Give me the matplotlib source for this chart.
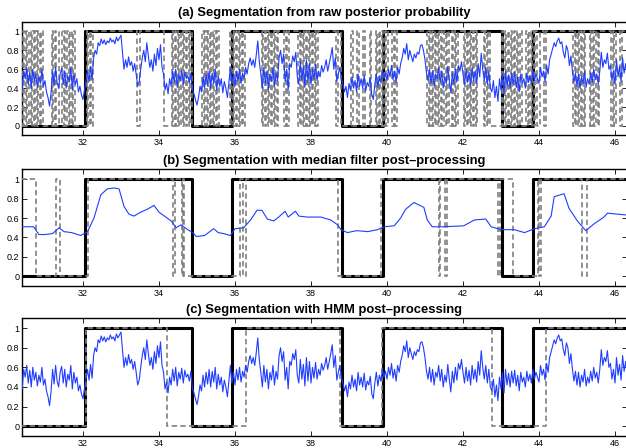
import matplotlib
matplotlib.use("Agg")
import matplotlib.pyplot as plt
import numpy as np

plt.rcParams['font.family'] = ['Liberation Sans', 'DejaVu Sans']

# raw posterior probability, one value every 0.04 s starting at 30.36
t0_raw = 30.36
dt_raw = 0.04
post_raw = [
    0.45, 0.38, 0.58, 0.50, 0.62, 0.44, 0.57, 0.40, 0.60, 0.47, 0.55, 0.41, 0.52, 0.45, 0.60, 0.42, 0.48, 0.36, 0.30, 0.21, 0.35, 0.58, 0.43, 0.62, 0.46,
    0.40, 0.55, 0.61, 0.44, 0.58, 0.40, 0.53, 0.47, 0.62, 0.38, 0.55, 0.44, 0.50, 0.36, 0.42, 0.33, 0.28, 0.38, 0.48, 0.58, 0.47, 0.63, 0.49, 0.72, 0.80,
    0.76, 0.88, 0.85, 0.92, 0.87, 0.91, 0.86, 0.90, 0.88, 0.93, 0.89, 0.91, 0.87, 0.94, 0.90, 0.93, 0.96, 0.78, 0.60, 0.70, 0.62, 0.73, 0.64, 0.68, 0.58,
    0.66, 0.55, 0.42, 0.47, 0.60, 0.72, 0.80, 0.68, 0.88, 0.74, 0.62, 0.70, 0.58, 0.76, 0.64, 0.82, 0.70, 0.86, 0.62, 0.55, 0.38, 0.45, 0.34, 0.50, 0.42,
    0.58, 0.46, 0.60, 0.41, 0.55, 0.48, 0.59, 0.44, 0.57, 0.50, 0.53, 0.46, 0.56, 0.38, 0.34, 0.28, 0.22, 0.30, 0.42, 0.36, 0.52, 0.40, 0.55, 0.43, 0.58,
    0.40, 0.56, 0.45, 0.60, 0.38, 0.53, 0.42, 0.50, 0.35, 0.47, 0.40, 0.30, 0.46, 0.62, 0.44, 0.55, 0.42, 0.58, 0.47, 0.60, 0.45, 0.56, 0.50, 0.62, 0.55,
    0.66, 0.72, 0.64, 0.70, 0.62, 0.75, 0.90, 0.68, 0.55, 0.40, 0.62, 0.45, 0.58, 0.38, 0.55, 0.47, 0.62, 0.42, 0.56, 0.48, 0.72, 0.80, 0.66, 0.76, 0.47,
    0.60, 0.38, 0.66, 0.62, 0.74, 0.68, 0.78, 0.52, 0.44, 0.68, 0.48, 0.63, 0.41, 0.70, 0.46, 0.66, 0.44, 0.60, 0.49, 0.65, 0.48, 0.58, 0.52, 0.64, 0.57,
    0.62, 0.70, 0.58, 0.66, 0.74, 0.83, 0.60, 0.72, 0.47, 0.55, 0.62, 0.50, 0.44, 0.36, 0.42, 0.30, 0.45, 0.38, 0.52, 0.40, 0.48, 0.36, 0.55, 0.42, 0.50,
    0.40, 0.54, 0.37, 0.46, 0.42, 0.51, 0.33, 0.28, 0.44, 0.55, 0.41, 0.52, 0.46, 0.58, 0.50, 0.56, 0.48, 0.60, 0.52, 0.64, 0.49, 0.58, 0.46, 0.62, 0.55,
    0.66, 0.72, 0.82, 0.76, 0.87, 0.70, 0.80, 0.74, 0.68, 0.76, 0.72, 0.78, 0.76, 0.85, 0.86, 0.80, 0.70, 0.56, 0.48, 0.60, 0.45, 0.58, 0.42, 0.55, 0.50,
    0.62, 0.46, 0.58, 0.40, 0.52, 0.45, 0.63, 0.48, 0.35, 0.56, 0.44, 0.60, 0.47, 0.64, 0.58, 0.68, 0.55, 0.44, 0.60, 0.46, 0.57, 0.42, 0.62, 0.48, 0.58,
    0.45, 0.66, 0.52, 0.77, 0.60, 0.48, 0.62, 0.44, 0.58, 0.40, 0.36, 0.48, 0.30, 0.42, 0.26, 0.50, 0.38, 0.55, 0.34, 0.58, 0.42, 0.54, 0.40, 0.56, 0.44,
    0.57, 0.41, 0.52, 0.36, 0.55, 0.45, 0.50, 0.40, 0.56, 0.46, 0.53, 0.44, 0.58, 0.48, 0.55, 0.50, 0.45, 0.62, 0.52, 0.58, 0.47, 0.64, 0.55, 0.70, 0.76,
    0.82, 0.88, 0.84, 0.90, 0.93, 0.87, 0.89, 0.78, 0.72, 0.85, 0.80, 0.64, 0.74, 0.58, 0.46, 0.56, 0.42, 0.55, 0.40, 0.52, 0.45, 0.58, 0.41, 0.50, 0.44,
    0.56, 0.46, 0.60, 0.49, 0.55, 0.44, 0.58, 0.78, 0.62, 0.70, 0.66, 0.77, 0.60, 0.64, 0.48, 0.58, 0.44, 0.70, 0.52, 0.63, 0.47, 0.72, 0.56, 0.66, 0.53,
    0.60,
]

# median filtered posterior (panel b)
t_med = [30.36, 30.70, 30.84, 31.00, 31.20, 31.37, 31.50, 31.70, 31.94, 32.12, 32.29, 32.47, 32.64, 32.82, 32.95, 33.08, 33.21, 33.34, 33.52, 33.69,
         33.87, 34.00, 34.18, 34.32, 34.45, 34.58, 34.76, 34.89, 34.98, 35.20, 35.44, 35.56, 35.70, 35.88, 36.00, 36.23, 36.41, 36.58, 36.71, 36.85,
         37.02, 37.15, 37.32, 37.40, 37.59, 37.68, 37.90, 38.26, 38.52, 38.70, 38.79, 38.96, 39.20, 39.50, 39.75, 39.92, 40.19, 40.36, 40.49, 40.71,
         40.97, 41.06, 41.19, 41.50, 42.02, 42.30, 42.60, 42.74, 43.00, 43.35, 43.62, 43.88, 44.14, 44.32, 44.40, 44.66, 44.79, 45.01, 45.23, 45.45,
         45.71, 45.80, 46.06, 46.36]
post_med = [0.51, 0.51, 0.43, 0.43, 0.44, 0.50, 0.46, 0.45, 0.42, 0.46, 0.60, 0.84, 0.90, 0.91, 0.90, 0.72, 0.64, 0.62, 0.66, 0.69,
            0.73, 0.66, 0.61, 0.57, 0.50, 0.53, 0.48, 0.45, 0.41, 0.42, 0.49, 0.45, 0.44, 0.42, 0.49, 0.50, 0.58, 0.68, 0.68, 0.59,
            0.57, 0.61, 0.67, 0.61, 0.67, 0.62, 0.61, 0.61, 0.58, 0.53, 0.48, 0.45, 0.47, 0.46, 0.48, 0.51, 0.52, 0.60, 0.69, 0.76,
            0.71, 0.58, 0.51, 0.51, 0.52, 0.58, 0.59, 0.51, 0.48, 0.48, 0.45, 0.49, 0.51, 0.62, 0.82, 0.85, 0.70, 0.57, 0.47, 0.54,
            0.61, 0.65, 0.64, 0.63]

# ground truth segmentation (change times and state after each)
t_truth = [30.36, 32.05, 34.86, 35.91, 38.81, 39.89, 43.03, 43.85, 46.40]
s_truth = [0, 1, 0, 1, 0, 1, 0, 1, 1]

# segmentation after median filter
t_seg_med = [30.36, 30.76, 31.30, 31.40, 32.13, 34.36, 34.42, 34.60, 34.63, 34.66, 36.14, 36.20, 36.29, 38.71, 39.85,
             41.37, 41.40, 41.53, 41.57, 42.91, 42.97, 43.32, 43.98, 44.01, 44.05, 45.14, 45.27, 46.40]
s_seg_med = [1, 0, 1, 0, 1, 0, 1, 0, 1, 0, 1, 0, 1, 0, 1,
             0, 1, 0, 1, 0, 1, 0, 1, 0, 1, 0, 1, 1]

# segmentation after HMM
t_seg_hmm = [30.36, 32.08, 34.22, 36.29, 38.77, 39.88, 42.77, 44.19, 46.40]
s_seg_hmm = [0, 1, 0, 1, 0, 1, 0, 1, 1]

titles = ["(a) Segmentation from raw posterior probability",
          "(b) Segmentation with median filter post\u2013processing",
          "(c) Segmentation with HMM post\u2013processing"]

t_raw = np.round(t0_raw + dt_raw * np.arange(len(post_raw)), 2)
post_raw = np.array(post_raw)
seg_raw = (post_raw > 0.5).astype(float)

fig = plt.figure(figsize=(6.26, 4.48), dpi=100)
rects = [[0.0351, 0.6978, 0.9665, 0.2531],
         [0.0351, 0.3616, 0.9665, 0.2601],
         [0.0351, 0.0268, 0.9665, 0.2627]]

blue = "#1f3dff"
gray = "#808080"

for k in range(3):
    ax = fig.add_axes(rects[k])
    ax.step(t_truth, s_truth, where="post", color="black", lw=2.2, zorder=2)
    if k == 0:
        ax.step(t_raw, seg_raw, where="mid", color=gray, lw=1.2, dashes=(3.2, 2), zorder=3)
        ax.plot(t_raw, post_raw, color=blue, lw=0.8, zorder=4)
    elif k == 1:
        ax.step(t_seg_med, s_seg_med, where="post", color=gray, lw=1.2, dashes=(3.2, 2), zorder=3)
        ax.plot(t_med, post_med, color=blue, lw=0.8, zorder=4)
    else:
        ax.step(t_seg_hmm, s_seg_hmm, where="post", color=gray, lw=1.2, dashes=(3.2, 2), zorder=3)
        ax.plot(t_raw, post_raw, color=blue, lw=0.8, zorder=4)

    ax.set_xlim(30.395, 46.316)
    ax.set_ylim(-0.1, 1.1)
    ax.set_xticks([32, 34, 36, 38, 40, 42, 44, 46])
    ax.set_yticks([0, 0.2, 0.4, 0.6, 0.8, 1])
    ax.set_yticklabels(["0", "0.2", "0.4", "0.6", "0.8", "1"])
    ax.tick_params(direction="in", length=3.5, width=0.6, labelsize=6.5, pad=2,
                   top=True, right=True)
    for sp in ax.spines.values():
        sp.set_linewidth(1.0)
    ax.set_title(titles[k], fontsize=9.4, fontweight="bold", pad=4)

fig.savefig("out.png", dpi=100)
